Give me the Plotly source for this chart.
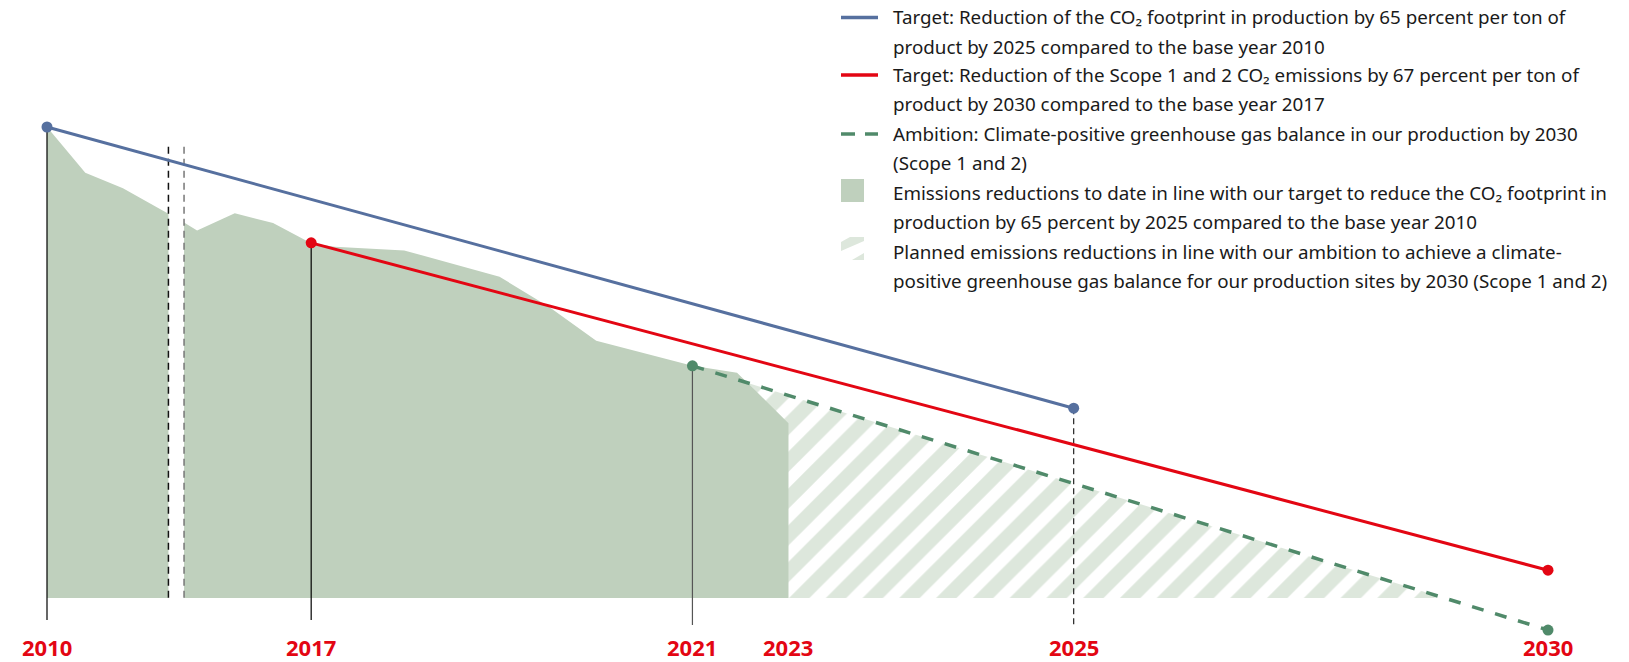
import numpy as np
import plotly.graph_objects as go

W, H = 1629, 662

# ---------------- data ----------------
# schematic x positions (0 = 2010, 100 = 2030); index values (2010 = 100)
year_labels = ["2010", "2017", "2021", "2023", "2025", "2030"]
year_pos = [0.0, 17.6, 43.0, 49.4, 68.4, 100.0]

# target lines
blue_x = [0.0, 68.4]          # 2010 -> 2025
blue_y = [100.0, 40.3]
red_x = [17.6, 100.0]         # 2017 -> 2030
red_y = [75.4, 5.9]
green_x = [43.0, 100.0]       # 2021 -> 2030 (ambition)
green_y = [49.3, -6.8]

# emissions to date (two segments around the axis break)
area1_x = [0.0, 2.55, 5.06, 8.02, 8.09]
area1_y = [100.0, 90.3, 87.0, 81.8, 81.6]
area2_x = [9.13, 10.0, 12.51, 15.06, 17.6, 19.17, 23.8, 30.15, 33.46, 36.59,
           43.0, 45.97, 47.28, 49.4]
area2_y = [79.7, 78.0, 81.7, 79.6, 75.3, 74.6, 73.8, 68.2, 61.8, 54.6,
           49.3, 47.8, 43.8, 37.1]

# axis break positions
break_x = [8.09, 9.13]
break_top = 95.8

legend_labels = [
    "Target: Reduction of the CO\u2082 footprint in production by 65 percent per ton of\nproduct by 2025 compared to the base year 2010",
    "Target: Reduction of the Scope 1 and 2 CO\u2082 emissions by 67 percent per ton of\nproduct by 2030 compared to the base year 2017",
    "Ambition: Climate-positive greenhouse gas balance in our production by 2030\n(Scope 1 and 2)",
    "Emissions reductions to date in line with our target to reduce the CO\u2082 footprint in\nproduction by 65 percent by 2025 compared to the base year 2010",
    "Planned emissions reductions in line with our ambition to achieve a climate-\npositive greenhouse gas balance for our production sites by 2030 (Scope 1 and 2)",
]

# ---------------- style ----------------
BLUE = "#56709f"
RED = "#e30613"
GREEN = "#508a6a"
AREA = "#bfd0bd"
HATCH = "#dde7dc"
TEXT = "#1a1a1a"
FONT = "Noto Sans"

# axis scaling: px = X0 + SX*u ; py = Y0 - SY*v
X0, SX = 47.0, 15.01
Y0, SY = 598.0, 4.71
xr = [-X0 / SX, (W - X0) / SX]
yr = [(Y0 - H) / SY, Y0 / SY]

fig = go.Figure()

# hatched planned reductions: under the ambition line, down to zero
x_zero = float(np.interp(0.0, green_y[::-1], green_x[::-1]))
fig.add_trace(go.Scatter(
    x=[green_x[0], x_zero, green_x[0], green_x[0]],
    y=[green_y[0], 0.0, 0.0, green_y[0]],
    mode="lines", fill="toself", line=dict(width=0),
    fillcolor="rgba(0,0,0,0)",
    fillpattern=dict(shape="/", fgcolor=HATCH, bgcolor="white", size=26,
                     solidity=0.55, fillmode="replace"),
    hoverinfo="skip", showlegend=False))

for ax_, ay_ in [(area1_x, area1_y), (area2_x, area2_y)]:
    fig.add_trace(go.Scatter(x=ax_, y=ay_, mode="lines", fill="tozeroy",
                             fillcolor=AREA, line=dict(width=0, color=AREA),
                             hoverinfo="skip", showlegend=False))

# axis-break dashed lines
for bx, col in zip(break_x, ["#111111", "#777777"]):
    fig.add_trace(go.Scatter(x=[bx, bx], y=[break_top, 0.0], mode="lines",
                             line=dict(color=col, width=1.5, dash="7px,5px"),
                             hoverinfo="skip", showlegend=False))

# vertical year lines
BOT1 = (Y0 - 620) / SY
BOT2 = (Y0 - 625) / SY
vlines = [
    (year_pos[0], blue_y[0], BOT1, "#000000", "solid"),
    (year_pos[1], red_y[0], BOT1, "#000000", "solid"),
    (year_pos[2], green_y[0], BOT2, "#555555", "solid"),
    (year_pos[4], blue_y[1], BOT2, "#222222", "6px,4px"),
]
for vx, vt, vb, col, dash in vlines:
    fig.add_trace(go.Scatter(x=[vx, vx], y=[vt, vb], mode="lines",
                             line=dict(color=col, width=1.2, dash=dash),
                             hoverinfo="skip", showlegend=False))

# target / ambition lines
fig.add_trace(go.Scatter(x=green_x, y=green_y, mode="lines+markers",
                         line=dict(color=GREEN, width=3.5, dash="12px,12px"),
                         marker=dict(size=11, color=GREEN),
                         hoverinfo="skip", showlegend=False))
fig.add_trace(go.Scatter(x=red_x, y=red_y, mode="lines+markers",
                         line=dict(color=RED, width=3),
                         marker=dict(size=11, color=RED),
                         hoverinfo="skip", showlegend=False))
fig.add_trace(go.Scatter(x=blue_x, y=blue_y, mode="lines+markers",
                         line=dict(color=BLUE, width=3),
                         marker=dict(size=11, color=BLUE),
                         hoverinfo="skip", showlegend=False))

annotations = []
# year labels
label_y = (Y0 - 646.5) / SY
for lab, xp in zip(year_labels, year_pos):
    annotations.append(dict(x=xp, y=label_y, xref="x", yref="y", text=f"<b>{lab}</b>",
                            showarrow=False, xanchor="center", yanchor="middle",
                            font=dict(family=FONT, size=22, color=RED)))


def PX(px):
    return px / W


def PY(py):
    return 1 - py / H


# custom legend
first_line_y = [17.3, 75.0, 134.0, 192.7, 251.7]
LINE_GAP = 29.3
TEXT_X = 891
for lab, y0 in zip(legend_labels, first_line_y):
    for k, line in enumerate(lab.split("\n")):
        annotations.append(dict(x=PX(TEXT_X), y=PY(y0 + k * LINE_GAP), xref="paper", yref="paper",
                                text=line, showarrow=False, xanchor="left", yanchor="middle",
                                font=dict(family=FONT, size=18.8, color=TEXT)))

shapes = []
IX0, IX1 = 841, 878
shapes.append(dict(type="line", xref="paper", yref="paper", x0=PX(IX0), x1=PX(IX1),
                   y0=PY(17.5), y1=PY(17.5), line=dict(color=BLUE, width=3.5)))
shapes.append(dict(type="line", xref="paper", yref="paper", x0=PX(IX0), x1=PX(IX1),
                   y0=PY(75), y1=PY(75), line=dict(color=RED, width=3.5)))
for a, b in [(841, 855), (865, 878)]:
    shapes.append(dict(type="line", xref="paper", yref="paper", x0=PX(a), x1=PX(b),
                       y0=PY(134), y1=PY(134), line=dict(color=GREEN, width=3.5)))
shapes.append(dict(type="rect", xref="paper", yref="paper", x0=PX(841), x1=PX(864),
                   y0=PY(179), y1=PY(202), line=dict(width=0), fillcolor=AREA))


def path(pts):
    return "M " + " L ".join(f"{PX(a):.5f},{PY(b):.5f}" for a, b in pts) + " Z"


shapes.append(dict(type="path", xref="paper", yref="paper",
                   path=path([(841, 242), (850, 237), (864, 237), (864, 241), (841, 251)]),
                   line=dict(width=0), fillcolor=HATCH))
shapes.append(dict(type="path", xref="paper", yref="paper",
                   path=path([(852, 260), (864, 253), (864, 260)]),
                   line=dict(width=0), fillcolor=HATCH))

fig.update_layout(
    width=W, height=H, autosize=False,
    margin=dict(l=0, r=0, t=0, b=0),
    paper_bgcolor="white", plot_bgcolor="white",
    xaxis=dict(range=xr, visible=False, fixedrange=True),
    yaxis=dict(range=yr, visible=False, fixedrange=True),
    annotations=annotations, shapes=shapes,
    showlegend=False,
)

fig.write_html("out.html", config={"displayModeBar": False},
               post_script="document.body.style.margin='0';document.body.style.overflow='hidden';")
